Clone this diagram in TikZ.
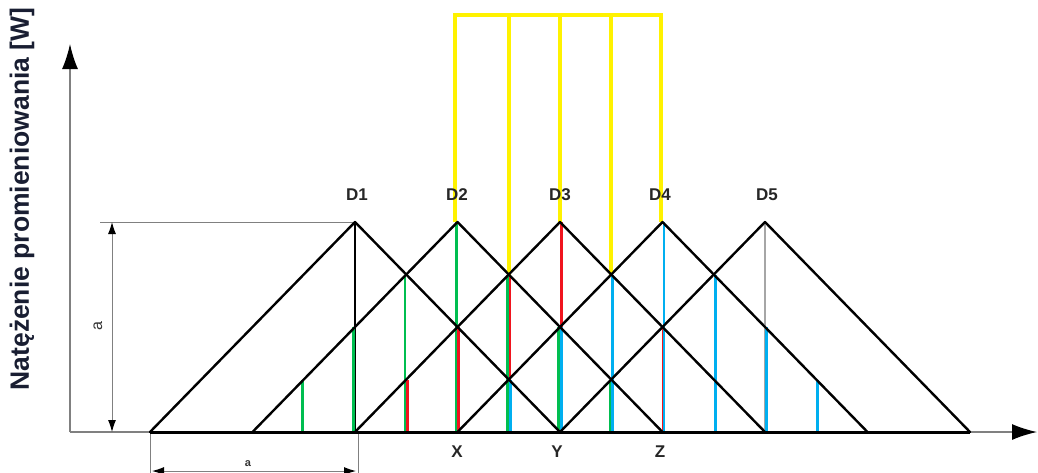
\documentclass[tikz,border=0pt]{standalone}
\usepackage{fontspec}
\setmainfont{Liberation Sans}
\usetikzlibrary{arrows.meta}
\begin{document}
\begin{tikzpicture}[x=1pt,y=-1pt,
  tri/.style={black,line width=2.4pt,line cap=round,line join=round},
  feed/.style={yellow,line width=3.8pt},
  gbar/.style={color={rgb,255:red,0;green,190;blue,80},line width=2.8pt},
  rbar/.style={color={rgb,255:red,240;green,20;blue,30},line width=2.8pt},
  bbar/.style={color={rgb,255:red,0;green,175;blue,240},line width=2.8pt},
  axisline/.style={gray,line width=1.4pt},
  dimline/.style={gray,line width=1pt},
  lbl/.style={font=\fontsize{17}{17}\selectfont\bfseries,text=black!85,inner sep=0pt},
]
\useasboundingbox (0,0) rectangle (1038,472);
% geometry
\foreach \i [evaluate=\i as \px using 355+(\i-1)*102.5] in {1,...,5}{
  \coordinate (P\i) at (\px,222);
  \coordinate (L\i) at (\px-205,432);
  \coordinate (R\i) at (\px+205,432);
}
% yellow feeder
\coordinate (Y4) at (661,15);
\draw[feed] (455,222) |- (Y4) -- (661,222);
\draw[feed] (508.75,15) -- (508.75,274.5);
\draw[feed] (560,15) -- (P3);
\draw[feed] (611.25,15) -- (611.25,274.5);
% axes
\coordinate (O) at (70,432);
\coordinate (Ytop) at (70,44);
\coordinate (Xend) at (1037,432);
\draw[axisline,-{Latex[length=25pt,width=16pt,black]}] (O) -- (Ytop);
\draw[axisline,-{Latex[length=25pt,width=16pt,black]}] (L1) -- (Xend);
\draw[axisline] (O) -- (L1);
% dimension lines
\coordinate (Dtop) at (100,222);
\draw[dimline] (Dtop) -- (P1);
\coordinate (Va) at (112,222);
\coordinate (Vb) at (112,432);
\draw[dimline,{Latex[length=12pt,width=8pt,black]}-{Latex[length=12pt,width=8pt,black]}] (Va) -- (Vb);
\node[rotate=90,font=\fontsize{16}{16}\selectfont,text=black!80,inner sep=0pt] (alab) at (98,326) {a};
\coordinate (Ba) at (150,480);
\coordinate (Bb) at (358,480);
\draw[dimline] (L1) -- (Ba);
\draw[dimline] (358,432) -- (Bb);
\coordinate (Ha) at (152,471);
\coordinate (Hb) at (356,471);
\draw[dimline,{Latex[length=12pt,width=8pt,black]}-{Latex[length=12pt,width=8pt,black]}] (Ha) -- (Hb);
\node[font=\fontsize{11}{11}\selectfont\bfseries,text=black!80,inner sep=0pt] (blab) at (248,464) {a};
% peak verticals
\draw[black,line width=2.6pt] (P1) -- (355,432);
\draw[gray!70,line width=1.2pt] (P5) -- (765,432);
% coloured verticals: green (D2), red (D3), blue (D4)
\foreach \d/\y in {-153.75/379.5,-102.5/327,-51.25/274.5,0/222,51.25/274.5,102.5/327,153.75/379.5}{
  \draw[gbar] ({457.5+\d-1.3},\y) -- ({457.5+\d-1.3},432);
}
\foreach \d/\y in {-153.75/379.5,-102.5/327,-51.25/274.5,0/222,51.25/274.5,102.5/327,153.75/379.5}{
  \draw[rbar] ({560+\d+1.2},\y) -- ({560+\d+1.2},432);
}
\foreach \d/\y in {-153.75/379.5,-102.5/327,-51.25/274.5,0/222,51.25/274.5,102.5/327,153.75/379.5}{
  \draw[bbar] ({662.5+\d+1.4},\y) -- ({662.5+\d+1.4},432);
}
% triangles
\foreach \i in {1,...,5}{
  \draw[tri] (L\i) -- (P\i) -- (R\i);
}
\draw[black,line width=3pt] (L1) -- (R5);
% labels
\foreach \i/\x in {1/357,2/457,3/560,4/660,5/767}{
  \node[lbl] (D\i) at (\x,195) {D\i};
}
\node[lbl] (X) at (457,452) {X};
\node[lbl] (Yl) at (557,452) {Y};
\node[lbl] (Z) at (660,452) {Z};
\node[rotate=90,font=\fontsize{26.5}{26.5}\selectfont\bfseries,text={rgb,255:red,25;green,30;blue,50},inner sep=0pt] (ylab) at (22,199) {Natężenie promieniowania [W]};
\end{tikzpicture}
\end{document}
